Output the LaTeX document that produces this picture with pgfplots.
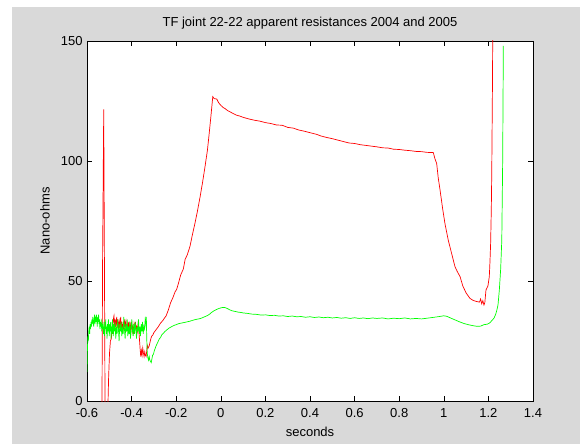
\documentclass[border=0pt]{standalone}
\usepackage{fontspec}
\setmainfont{Liberation Sans}
\usepackage{pgfplots}
\pgfplotsset{compat=1.18}
\definecolor{figgray}{RGB}{217,217,217}
\definecolor{mred}{RGB}{255,0,0}
\definecolor{mgreen}{RGB}{0,255,0}

\pgfplotstableread{
x y
-0.533 -5
-0.530 60
-0.525 121.5
-0.521 40
-0.519 -5
-0.512 -5
-0.507 -5
-0.503 10
-0.499 20
-0.495 25
-0.491 26
-0.488 30
-0.485 28
-0.482 34
-0.479 35.5
-0.476 31
-0.473 34
-0.470 30
-0.467 35
-0.464 32
-0.461 34
-0.458 29
-0.455 33
-0.452 31
-0.449 35
-0.446 30
-0.443 33
-0.440 29
-0.437 32
-0.434 30
-0.431 34
-0.428 31
-0.425 33
-0.422 29
-0.419 32
-0.416 30
-0.413 33
-0.410 28
-0.407 32
-0.404 30
-0.401 33
-0.398 29
-0.395 31
-0.392 28
-0.389 32
-0.386 30
-0.383 33
-0.380 30
-0.377 31
-0.374 29
-0.371 32
-0.368 30
-0.365 26
-0.362 22
-0.359 18.5
-0.356 21
-0.353 19
-0.350 22
-0.347 20
-0.344 18.5
-0.341 20.5
-0.338 19
-0.335 18.5
-0.332 21
-0.329 23
-0.326 22
-0.321 23
-0.315 25.5
-0.310 27
-0.305 27.5
-0.300 28.5
-0.291 29.6
-0.280 31
-0.270 32.5
-0.260 33.5
-0.253 34.5
-0.245 35.5
-0.235 38
-0.225 41
-0.215 43
-0.205 45.5
-0.198 46.5
-0.190 49
-0.180 52.5
-0.168 55
-0.160 59
-0.150 61
-0.138 64.5
-0.128 69
-0.116 74
-0.105 79
-0.093 85
-0.082 91
-0.071 97.5
-0.060 104.5
-0.052 111.5
-0.044 119
-0.036 126.8
-0.030 126
-0.018 125.8
-0.010 124.3
0.000 123.2
0.010 122.3
0.020 121.8
0.030 121.0
0.041 120.5
0.055 119.8
0.070 119.1
0.086 118.7
0.100 118.2
0.115 117.8
0.131 117.4
0.150 117.0
0.175 116.6
0.200 116.0
0.225 115.6
0.250 115.0
0.275 114.9
0.300 114.0
0.325 113.7
0.350 112.9
0.375 112.4
0.400 111.8
0.430 111.1
0.450 110.4
0.475 109.8
0.500 109.3
0.525 108.7
0.550 108.1
0.575 107.5
0.600 107.3
0.625 106.8
0.650 106.5
0.675 106.2
0.700 105.9
0.725 105.5
0.750 105.4
0.775 104.9
0.800 104.8
0.825 104.5
0.850 104.3
0.875 104.0
0.900 103.9
0.925 103.6
0.953 103.5
0.960 101
0.968 99
0.975 93
0.983 88
0.995 80
1.005 74
1.020 67
1.035 61.5
1.050 56
1.060 54
1.073 51.8
1.085 48
1.100 45
1.117 42.8
1.130 42
1.145 41.5
1.160 41.2
1.165 42.5
1.170 40.5
1.175 41.8
1.180 40
1.184 41
1.189 46.2
1.198 48
1.204 51.8
1.207 58
1.210 65.7
1.213 80
1.215 94.9
1.218 130
1.220 160
}\redtable

\pgfplotstableread{
x y
-0.600 12
-0.598 22
-0.596 27
-0.594 25
-0.592 29
-0.590 31
-0.588 28
-0.586 32
-0.584 30
-0.582 33
-0.580 31
-0.578 34
-0.576 32
-0.574 35
-0.572 33
-0.570 31
-0.568 34
-0.566 36
-0.564 32
-0.562 35
-0.560 33
-0.558 36
-0.556 34
-0.554 31
-0.552 35
-0.550 33
-0.548 36
-0.546 32
-0.544 34
-0.542 30
-0.540 33
-0.538 31
-0.536 34
-0.534 29
-0.532 32
-0.530 30
-0.528 33
-0.526 28
-0.524 31
-0.522 27
-0.520 33
-0.518 30
-0.516 34
-0.514 28
-0.512 31
-0.510 26
-0.508 32
-0.506 29
-0.504 34
-0.502 30
-0.500 27
-0.498 32
-0.496 29
-0.494 33
-0.492 26
-0.490 31
-0.488 28
-0.486 34
-0.484 30
-0.482 27
-0.480 32
-0.477 29
-0.474 33
-0.471 26
-0.468 31
-0.465 28
-0.462 34
-0.459 30
-0.456 25
-0.453 32
-0.450 29
-0.447 33
-0.444 27
-0.441 31
-0.438 28
-0.435 35
-0.432 30
-0.429 26
-0.426 32
-0.423 29
-0.420 34
-0.417 27
-0.414 31
-0.411 28
-0.408 33
-0.405 26
-0.402 30
-0.399 34
-0.396 29
-0.393 27
-0.390 32
-0.387 28
-0.384 33
-0.381 30
-0.378 26
-0.375 31
-0.372 29
-0.369 34
-0.366 28
-0.363 31
-0.360 27
-0.357 32
-0.354 29
-0.351 33
-0.348 28
-0.345 31
-0.342 30
-0.339 34
-0.336 32
-0.334 35
-0.332 26
-0.330 20
-0.327 18
-0.324 17
-0.321 18.5
-0.318 17
-0.315 16.5
-0.312 16
-0.309 17.5
-0.306 19
-0.302 19.5
-0.298 21
-0.294 22
-0.290 23
-0.285 24
-0.280 25
-0.275 26
-0.270 26.5
-0.265 27.5
-0.260 28
-0.255 28.5
-0.250 29
-0.240 29.8
-0.230 30.5
-0.220 31
-0.210 31.5
-0.200 31.8
-0.190 32.2
-0.180 32.4
-0.170 32.6
-0.160 32.8
-0.150 33
-0.140 33.2
-0.130 33.5
-0.120 33.8
-0.110 34
-0.100 34.2
-0.090 34.4
-0.080 34.8
-0.070 35.2
-0.060 35.6
-0.050 36.2
-0.040 37
-0.030 37.6
-0.020 38.1
-0.010 38.5
0.000 38.8
0.010 39
0.020 38.9
0.030 38.5
0.040 38
0.050 37.6
0.060 37.4
0.070 37.2
0.080 37
0.090 36.9
0.100 36.7
0.120 36.5
0.140 36.2
0.160 36.1
0.180 35.8
0.200 35.9
0.220 35.6
0.240 35.7
0.260 35.4
0.280 35.5
0.300 35.2
0.320 35.4
0.340 35.1
0.360 35.2
0.380 34.9
0.400 35.1
0.420 34.8
0.440 35.0
0.460 34.7
0.480 34.9
0.500 34.6
0.520 34.8
0.540 34.5
0.560 34.7
0.580 34.4
0.600 34.7
0.620 34.4
0.640 34.6
0.660 34.3
0.680 34.6
0.700 34.4
0.725 34.6
0.750 34.2
0.775 34.5
0.800 34.3
0.825 34.6
0.850 34.2
0.875 34.4
0.900 34.2
0.925 34.5
0.950 34.8
0.980 35.2
1.000 35.5
1.013 35.3
1.030 34.6
1.050 33.8
1.070 33.0
1.090 32.3
1.110 31.8
1.130 31.4
1.150 31.1
1.165 31.2
1.180 31.8
1.195 32
1.207 32.6
1.215 33.5
1.225 34.5
1.232 36
1.237 37.5
1.243 40
1.249 46.2
1.255 55
1.260 67
1.264 100
1.267 148
}\greentable

\begin{document}
\begin{tikzpicture}[x=1pt,y=1pt]
\useasboundingbox (0,0) rectangle (580,444);
\fill[white] (0,0) rectangle (580,444);
\fill[figgray] (12,0) rectangle (580,437);
\begin{axis}[
  at={(87pt,43pt)}, anchor=south west,
  scale only axis, width=446pt, height=360pt,
  xmin=-0.6, xmax=1.4, ymin=0, ymax=150,
  xtick={-0.6,-0.4,-0.2,0,0.2,0.4,0.6,0.8,1,1.2,1.4},
  ytick={0,50,100,150},
  /pgf/number format/assume math mode=true,
  tick align=inside, major tick length=5pt,
  tick style={black, line width=0.6pt},
  axis line style={black, line width=0.9pt},
  axis background/.style={fill=white},
  font=\fontsize{13}{15}\selectfont,
  ticklabel style={font=\fontsize{13}{15}\selectfont},
  xticklabel style={inner sep=1pt, yshift=-6.3pt},
  yticklabel style={inner sep=1pt, xshift=-3.3pt},
  title={TF joint 22-22 apparent resistances 2004 and 2005},
  title style={at={(axis description cs:0.5,1)}, anchor=base, yshift=8.5pt},
  xlabel={seconds},
  xlabel style={at={(axis description cs:0.5,-0.086)}, anchor=center},
  ylabel={Nano-ohms},
  ylabel style={at={(axis description cs:-0.094,0.5)}, anchor=center, rotate=0},
  clip=true,
]
\addplot[mred, line width=0.7pt] table[x=x, y=y] {\redtable};
\addplot[mgreen, line width=0.7pt] table[x=x, y=y] {\greentable};
\end{axis}
\end{tikzpicture}
\end{document}
